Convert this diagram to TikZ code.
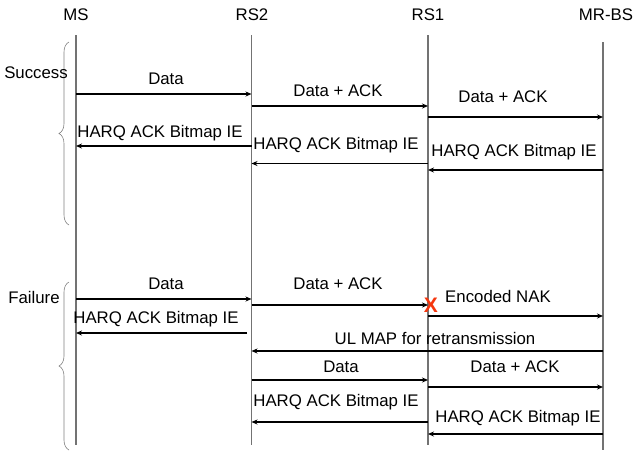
\documentclass[tikz,border=0pt]{standalone}
\usepackage{fontspec}
\setmainfont{Liberation Sans}
\usetikzlibrary{arrows.meta,decorations.pathreplacing}
\begin{document}
\begin{tikzpicture}[x=1pt,y=-1pt,
  txt/.style={inner sep=0pt,font=\fontsize{16.8}{18}\selectfont},
  life/.style={draw=black!55,line width=1.1pt},
  thk/.style={line width=1.8pt,-{Stealth[length=6pt,width=5pt]}},
  thn/.style={line width=1.1pt,-{Stealth[length=6pt,width=5pt]}},
  grpbrace/.style={draw=black!50,line width=0.6pt,decorate,decoration={brace,amplitude=10pt}}]
\useasboundingbox (0,0) rectangle (638,451);
% heads
\node[txt] (MS) at (76,15) {MS};
\node[txt] (RS2) at (252,15) {RS2};
\node[txt] (RS1) at (428,15) {RS1};
\node[txt] (MRBS) at (606,15) {MR-BS};
% lifeline ends
\coordinate (mst) at (76,35);   \coordinate (ms) at (76,445);
\coordinate (rs2t) at (251.5,35); \coordinate (rs2) at (251.5,445);
\coordinate (rs1t) at (428,35); \coordinate (rs1) at (428,445);
\coordinate (bst) at (603,42);  \coordinate (bs) at (603,450);
\draw[life] (mst) -- (ms);
\draw[life] (rs2t) -- (rs2);
\draw[life] (rs1t) -- (rs1);
\draw[life] (bst) -- (bs);
% braces
\coordinate (b1a) at (69,225); \coordinate (b1b) at (69,42);
\coordinate (b2a) at (69,450); \coordinate (b2b) at (69,282);
\draw[grpbrace] (b1a) -- (b1b);
\draw[grpbrace] (b2a) -- (b2b);
\node[txt] (succ) at (36,73) {Success};
\node[txt] (fail) at (34,297) {Failure};
% Success
\draw[thk] (ms |- 0,94) -- (rs2 |- 0,94);
\node[txt] (l1) at (166,79) {Data};
\draw[thk] (rs2 |- 0,106) -- (rs1 |- 0,106);
\node[txt] (l2) at (338,91) {Data + ACK};
\draw[thk] (rs1 |- 0,117) -- (bs |- 0,117);
\node[txt] (l3) at (503,97) {Data + ACK};
\draw[thn] (rs2 |- 0,146) -- (ms |- 0,146);
\node[txt] (l4) at (160,133) {HARQ ACK Bitmap IE};
\draw[thk] (rs1 |- 0,163.5) -- (rs2 |- 0,163.5);
\node[txt] (l5) at (336,145) {HARQ ACK Bitmap IE};
\draw[thn] (bs |- 0,170) -- (rs1 |- 0,170);
\node[txt] (l6) at (514,152) {HARQ ACK Bitmap IE};
% Failure
\draw[thk] (ms |- 0,299) -- (rs2 |- 0,299);
\node[txt] (l7) at (166,284) {Data};
\draw[thk] (rs2 |- 0,305) -- (rs1 |- 0,305);
\node[txt] (l8) at (338,284) {Data + ACK};
\node[inner sep=0pt,text={rgb,255:red,245;green,55;blue,15},font=\fontsize{21}{21}\selectfont\bfseries] (x) at (431,305) {X};
\draw[thn] (rs1 |- 0,316) -- (bs |- 0,316);
\node[txt] (l9) at (498,296) {Encoded NAK};
\coordinate (h1s) at (247,333);
\draw[thk] (h1s) -- (ms |- h1s);
\node[txt] (l10) at (156,319) {HARQ ACK Bitmap IE};
\draw[thk] (bs |- 0,351) -- (rs2 |- 0,351);
\node[txt] (l11) at (435,338) {UL MAP for retransmission};
\draw[thk] (rs2 |- 0,380) -- (rs1 |- 0,380);
\node[txt] (l12) at (341,367) {Data};
\draw[thn] (rs1 |- 0,387) -- (bs |- 0,387);
\node[txt] (l13) at (515,367) {Data + ACK};
\draw[thk] (rs1 |- 0,422) -- (rs2 |- 0,422);
\node[txt] (l14) at (336,402) {HARQ ACK Bitmap IE};
\draw[thn] (bs |- 0,434) -- (rs1 |- 0,434);
\node[txt] (l15) at (518,418) {HARQ ACK Bitmap IE};
\end{tikzpicture}
\end{document}
